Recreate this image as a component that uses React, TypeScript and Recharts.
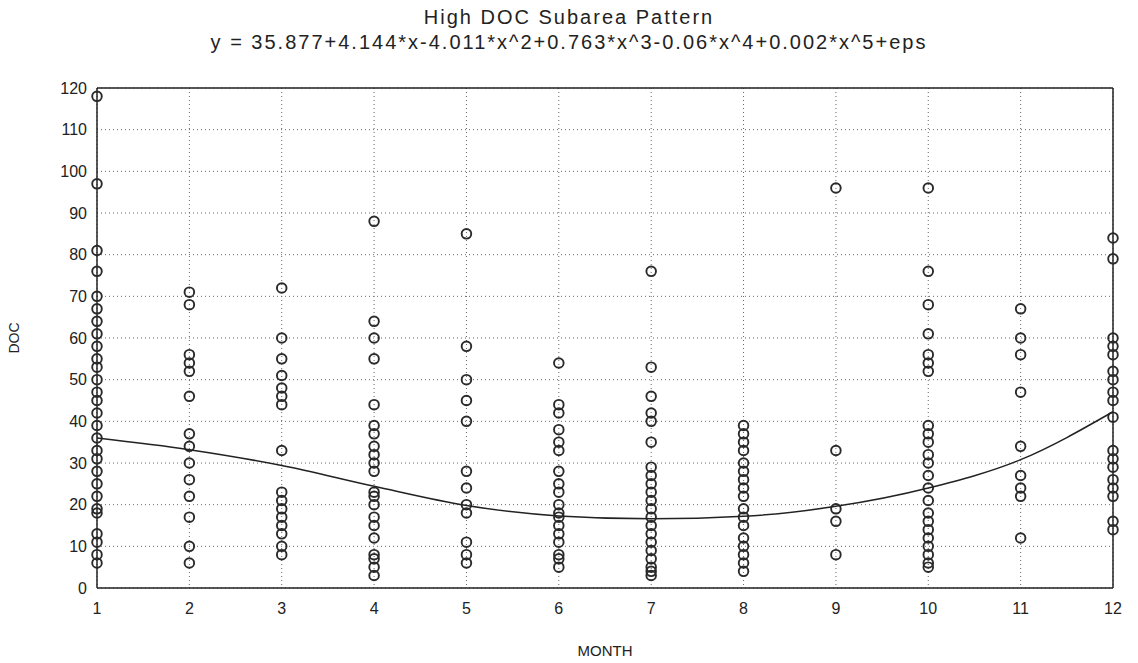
import { ScatterChart, Scatter, XAxis, YAxis, CartesianGrid, Label } from "recharts";

// DOC readings per month
const month1 = [118, 97, 81, 76, 70, 67, 64, 61, 58, 55, 53, 50, 47, 45, 42, 39, 36, 33, 31, 28, 25, 22, 19, 18, 13, 11, 8, 6];
const month2 = [71, 68, 56, 54, 52, 46, 37, 34, 30, 26, 22, 17, 10, 6];
const month3 = [72, 60, 55, 51, 48, 46, 44, 33, 23, 21, 19, 17, 15, 13, 10, 8];
const month4 = [88, 64, 60, 55, 44, 39, 37, 34, 32, 30, 28, 23, 22, 20, 17, 15, 12, 8, 7, 5, 3];
const month5 = [85, 58, 50, 45, 40, 28, 24, 20, 18, 11, 8, 6];
const month6 = [54, 44, 42, 38, 35, 33, 28, 25, 23, 20, 18, 17, 15, 13, 11, 8, 7, 5];
const month7 = [76, 53, 46, 42, 40, 35, 29, 27, 25, 23, 21, 19, 17, 15, 13, 11, 9, 7, 5, 4, 3];
const month8 = [39, 37, 35, 33, 30, 28, 26, 24, 22, 19, 17, 15, 12, 10, 8, 6, 4];
const month9 = [96, 33, 19, 16, 8];
const month10 = [96, 76, 68, 61, 56, 54, 52, 39, 37, 35, 32, 30, 27, 24, 21, 18, 16, 14, 12, 10, 8, 6, 5];
const month11 = [67, 60, 56, 47, 34, 27, 24, 22, 12];
const month12 = [84, 79, 60, 58, 56, 52, 50, 47, 45, 41, 33, 31, 29, 26, 24, 22, 16, 14];

const months = [1, 2, 3, 4, 5, 6, 7, 8, 9, 10, 11, 12];
const byMonth = [month1, month2, month3, month4, month5, month6, month7, month8, month9, month10, month11, month12];

// fitted curve, read at each month
const fitDoc = [36, 33.2, 29.4, 24.4, 19.8, 17.3, 16.6, 17.2, 19.6, 24, 30.8, 42.3];

const yTicks = [0, 10, 20, 30, 40, 50, 60, 70, 80, 90, 100, 110, 120];
const minorX = Array.from({ length: 56 }, (_, i) => 1 + i * 0.2);
const minorY = Array.from({ length: 61 }, (_, i) => i * 2);

const points = byMonth.flatMap((vals, i) => vals.map((v) => ({ month: months[i], doc: v })));
const fitData = months.map((m, i) => ({ month: m, doc: fitDoc[i] }));

const FONT = '"Liberation Sans", Arial, sans-serif';
const INK = "#222";

const TopTick = (props: any) => (
  <line x1={props.x} x2={props.x} y1={props.y} y2={props.y + 4} stroke={INK} strokeWidth={1} />
);
const RightTick = (props: any) => (
  <line x1={props.x - 4} x2={props.x} y1={props.y} y2={props.y} stroke={INK} strokeWidth={1} />
);
const Ring = (props: any) => (
  <circle cx={props.cx} cy={props.cy} r={4.8} fill="none" stroke="#2a2a2a" strokeWidth={1.9} />
);

const titleStyle = {
  position: "absolute" as const,
  width: 1138,
  textAlign: "center" as const,
  fontSize: 20,
  letterSpacing: 2,
  lineHeight: "24px",
  color: INK,
};

export default function App() {
  return (
    <div style={{ position: "absolute", left: 0, top: 0, width: 1138, height: 663, background: "#fff", fontFamily: FONT }}>
      <div style={{ ...titleStyle, top: 5 }}>High DOC Subarea Pattern</div>
      <div style={{ ...titleStyle, top: 30 }}>
        y = 35.877+4.144*x-4.011*x^2+0.763*x^3-0.06*x^4+0.002*x^5+eps
      </div>
      <ScatterChart width={1138} height={663} margin={{ top: 87, right: 24, bottom: 0, left: 0 }} style={{ fontFamily: FONT }}>
        <CartesianGrid xAxisId="bottom" yAxisId="left" stroke="#666" strokeDasharray="1 3" />
        <XAxis
          xAxisId="bottom"
          dataKey="month"
          type="number"
          domain={[1, 12]}
          ticks={months}
          interval={0}
          height={75}
          tickSize={0}
          tickMargin={15}
          tickLine={false}
          axisLine={{ stroke: INK, strokeWidth: 1.5 }}
          tick={{ fill: INK, fontSize: 16 }}
        >
          <Label value="MONTH" position="insideBottom" offset={7} style={{ fill: INK, fontSize: 15 }} />
        </XAxis>
        <XAxis
          xAxisId="top"
          orientation="top"
          type="number"
          domain={[1, 12]}
          ticks={minorX}
          interval={0}
          height={1}
          tickSize={0}
          tickMargin={0}
          tickLine={false}
          axisLine={{ stroke: INK, strokeWidth: 1.5 }}
          tick={<TopTick />}
        />
        <YAxis
          yAxisId="left"
          dataKey="doc"
          type="number"
          domain={[0, 120]}
          ticks={yTicks}
          interval={0}
          width={97}
          tickSize={0}
          tickMargin={10}
          tickLine={false}
          axisLine={{ stroke: INK, strokeWidth: 1.5 }}
          tick={{ fill: INK, fontSize: 16 }}
        >
          <Label value="DOC" angle={-90} position="insideLeft" offset={14} style={{ fill: INK, fontSize: 14, textAnchor: "middle" }} />
        </YAxis>
        <YAxis
          yAxisId="right"
          orientation="right"
          type="number"
          domain={[0, 120]}
          ticks={minorY}
          interval={0}
          width={1}
          tickSize={0}
          tickMargin={0}
          tickLine={false}
          axisLine={{ stroke: INK, strokeWidth: 1.5 }}
          tick={<RightTick />}
        />
        <Scatter
          xAxisId="bottom"
          yAxisId="left"
          data={points}
          shape={<Ring />}
          isAnimationActive={false}
        />
        <Scatter
          xAxisId="bottom"
          yAxisId="left"
          data={fitData}
          line={{ stroke: INK, strokeWidth: 1.5 }}
          lineJointType="monotoneX"
          shape={() => <g />}
          isAnimationActive={false}
        />
      </ScatterChart>
    </div>
  );
}
